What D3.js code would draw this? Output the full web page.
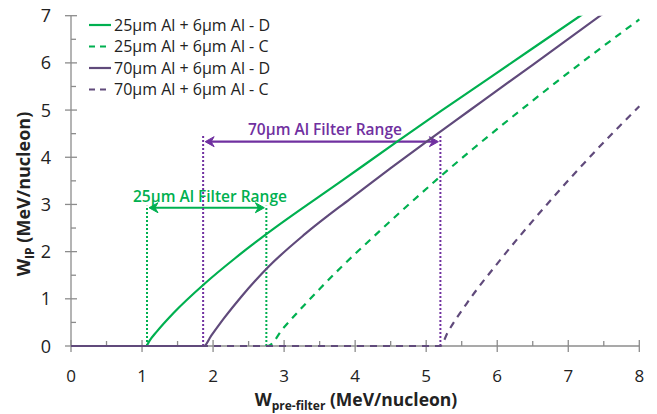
<!DOCTYPE html>
<html><head><meta charset="utf-8">
<script src="https://cdn.jsdelivr.net/npm/d3@7"></script>
<style>body{margin:0;background:#fff}svg{display:block}text{font-family:"Open Sans",sans-serif}</style>
</head><body><svg id="c" width="657" height="414"></svg>
<script>
const xTicks = [0,1,2,3,4,5,6,7,8];
const yTicks = [0,1,2,3,4,5,6,7];
const seriesNames = ["25µm Al + 6µm Al - D","25µm Al + 6µm Al - C","70µm Al + 6µm Al - D","70µm Al + 6µm Al - C"];
const green25D = [[0,0],[1.06,0],[1.1,0.1],[1.21,0.31],[1.45,0.71],[1.88,1.32],[2.31,1.86],[2.74,2.36],[3.83,3.52],[4.59,4.33],[5.19,4.96],[6.2,6.0],[7.19,7.02],[7.5,7.34]];
const green25C = [[0,0],[2.77,0],[2.99,0.38],[3.23,0.78],[3.52,1.24],[3.81,1.68],[4.19,2.22],[4.63,2.83],[5.19,3.58],[5.66,4.18],[6.5,5.2],[7.2,6.02],[8,6.92]];
const purple70D = [[0,0],[1.87,0],[1.97,0.21],[2.16,0.6],[2.4,1.05],[2.78,1.68],[3.3,2.38],[3.93,3.12],[4.5,3.77],[5.03,4.36],[5.6,4.98],[6.5,5.96],[7.45,7.0],[7.7,7.27]];
const purple70C = [[0,0],[5.2,0],[5.3,0.28],[5.57,0.9],[6.04,1.82],[6.7,3.0],[7.4,4.16],[8,5.08]];
const range25 = [1.07,2.75];
const range70 = [1.86,5.2];
const rangeLabels = ["25µm Al Filter Range","70µm Al Filter Range"];

const svg = d3.select("#c");
const x = d3.scaleLinear().domain([0,8]).range([71,639.3]);
const y = d3.scaleLinear().domain([0,7]).range([346,15.7]);
const axisCol = "#8c8c8c";
const G = "#00b050", P = "#604a7b", PA = "#7030a0";

// axes
const gx = svg.append("g");
gx.append("line").attr("x1",x(0)).attr("x2",x(8)).attr("y1",y(0)).attr("y2",y(0)).attr("stroke",axisCol).attr("stroke-width",1.3);
xTicks.forEach(t=>{
  gx.append("line").attr("x1",x(t)).attr("x2",x(t)).attr("y1",y(0)-6).attr("y2",y(0)+6).attr("stroke",axisCol).attr("stroke-width",1.3);
  gx.append("text").attr("x",x(t)).attr("y",382).attr("text-anchor","middle").attr("font-size",17).attr("fill","#222").text(t);
});
d3.range(0.5,8,1).forEach(t=>{
  gx.append("line").attr("x1",x(t)).attr("x2",x(t)).attr("y1",y(0)-5).attr("y2",y(0)).attr("stroke",axisCol).attr("stroke-width",1.3);
});
const gy = svg.append("g");
gy.append("line").attr("x1",x(0)).attr("x2",x(0)).attr("y1",y(0)).attr("y2",y(7)).attr("stroke",axisCol).attr("stroke-width",1.3);
yTicks.forEach(t=>{
  gy.append("line").attr("x1",x(0)-6).attr("x2",x(0)+6).attr("y1",y(t)).attr("y2",y(t)).attr("stroke",axisCol).attr("stroke-width",1.3);
  gy.append("text").attr("x",51).attr("y",y(t)+6.5).attr("text-anchor","end").attr("font-size",18).attr("fill","#222").text(t);
});
d3.range(0.5,7,1).forEach(t=>{
  gy.append("line").attr("x1",x(0)).attr("x2",x(0)+5).attr("y1",y(t)).attr("y2",y(t)).attr("stroke",axisCol).attr("stroke-width",1.3);
});

// axis titles
const xt = svg.append("text").attr("x",356).attr("y",406).attr("text-anchor","middle").attr("font-size",17.5).attr("font-weight","bold").attr("fill","#222");
xt.append("tspan").text("W");
xt.append("tspan").attr("font-size",12).attr("dy",4).text("pre-filter");
xt.append("tspan").attr("dy",-4).text(" (MeV/nucleon)");
const yt = svg.append("text").attr("transform","translate(30,194) rotate(-90)").attr("text-anchor","middle").attr("font-size",18).attr("font-weight","bold").attr("fill","#222");
yt.append("tspan").text("W");
yt.append("tspan").attr("font-size",12).attr("dy",4).text("IP");
yt.append("tspan").attr("dy",-4).text(" (MeV/nucleon)");

// clip
svg.append("clipPath").attr("id","clip").append("rect").attr("x",x(0)-2).attr("y",y(7)).attr("width",x(8)-x(0)+4).attr("height",y(0)-y(7)+3);

// range markers
function rangeMarker(r, top, arrowY, col){
  const g = svg.append("g");
  r.forEach(v=>g.append("line").attr("x1",x(v)).attr("x2",x(v)).attr("y1",y(0)).attr("y2",y(top)).attr("stroke",col).attr("stroke-width",2).attr("stroke-dasharray","2,2"));
  const ay = y(arrowY), x1 = x(r[0])+2, x2 = x(r[1])-2;
  g.append("line").attr("x1",x1+4).attr("x2",x2-4).attr("y1",ay).attr("y2",ay).attr("stroke",col).attr("stroke-width",2.2);
  g.append("path").attr("d",`M${x1},${ay} L${x1+9},${ay-5} L${x1+6},${ay} L${x1+9},${ay+5} Z`).attr("fill",col).attr("stroke",col).attr("stroke-width",1);
  g.append("path").attr("d",`M${x2},${ay} L${x2-9},${ay-5} L${x2-6},${ay} L${x2-9},${ay+5} Z`).attr("fill",col).attr("stroke",col).attr("stroke-width",1);
}
rangeMarker(range25, 2.97, 2.93, G);
rangeMarker(range70, 4.47, 4.33, PA);
svg.append("text").attr("x",210).attr("y",202).attr("text-anchor","middle").attr("font-size",15.5).attr("font-weight",600).attr("fill",G).text(rangeLabels[0]);
svg.append("text").attr("x",325).attr("y",135).attr("text-anchor","middle").attr("font-size",15.5).attr("font-weight",600).attr("fill",PA).text(rangeLabels[1]);

// series
const line = d3.line().x(d=>x(d[0])).y(d=>y(d[1])).curve(d3.curveMonotoneX);
const series = [
  {d:green25D,c:G,dash:null},
  {d:green25C,c:G,dash:"7,6"},
  {d:purple70D,c:P,dash:null},
  {d:purple70C,c:P,dash:"7,6"}
];
const gl = svg.append("g").attr("clip-path","url(#clip)");
series.forEach(s=>{
  gl.append("path").attr("d",line(s.d)).attr("fill","none").attr("stroke",s.c).attr("stroke-width",2.2).attr("stroke-dasharray",s.dash);
});

// legend
const ly = [25,46.5,68,89.5];
series.forEach((s,i)=>{
  svg.append("line").attr("x1",89).attr("x2",111).attr("y1",ly[i]).attr("y2",ly[i]).attr("stroke",s.c).attr("stroke-width",2.2).attr("stroke-dasharray",s.dash?"6,5":null);
  svg.append("text").attr("x",114).attr("y",ly[i]+5.5).attr("font-size",16).attr("fill","#222").text(seriesNames[i]);
});
</script></body></html>
